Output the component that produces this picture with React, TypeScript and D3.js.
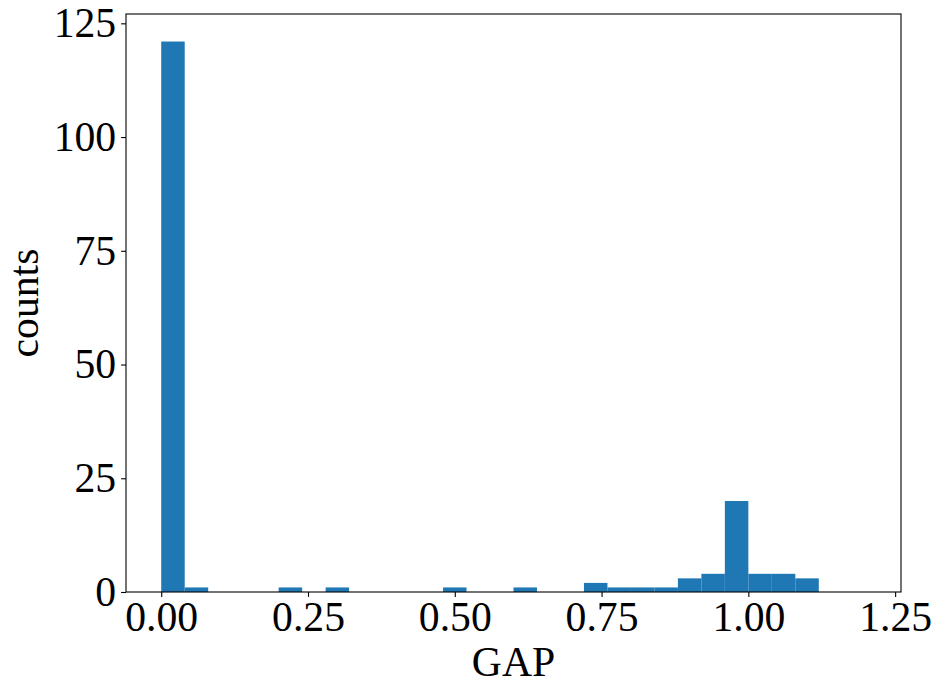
import * as d3 from "d3";
import { useEffect, useRef } from "react";

// histogram of GAP values: 30 bins between min and max
const dataMin = 0;
const dataMax = 1.2;
const binCount = 30;
const counts = [
  121, 1, 0, 0, 0, 1, 0, 1, 0, 0,
  0, 0, 1, 0, 0, 1, 0, 0, 2, 1,
  1, 1, 3, 4, 20, 4, 4, 3, 0, 0,
];
const xTicks = [0, 0.25, 0.5, 0.75, 1.0, 1.25];
const yTicks = [0, 25, 50, 75, 100, 125];
const xLabel = "GAP";
const yLabel = "counts";

export default function App() {
  const ref = useRef<SVGSVGElement>(null);

  useEffect(() => {
    const svg = d3.select(ref.current);
    svg.selectAll("*").remove();

    const width = 941;
    const height = 693;
    const plot = { left: 126, right: 901, top: 14, bottom: 592 };
    const font = "'Liberation Serif', 'Times New Roman', serif";
    const fontSize = 41.7;

    svg.attr("width", width).attr("height", height);

    const binWidth = (dataMax - dataMin) / binCount;
    const bins = counts.map((c, i) => ({
      x0: dataMin + i * binWidth,
      x1: dataMin + (i + 1) * binWidth,
      count: c,
    }));

    const pad = (dataMax - dataMin) * 0.05;
    const x = d3
      .scaleLinear()
      .domain([dataMin - pad, dataMax + pad])
      .range([plot.left, plot.right]);

    const y = d3
      .scaleLinear()
      .domain([0, d3.max(counts)! * 1.05])
      .range([plot.bottom, plot.top]);

    svg.append("rect")
      .attr("width", width)
      .attr("height", height)
      .attr("fill", "white");

    // Bars
    svg.append("g")
      .selectAll("rect")
      .data(bins.filter((b) => b.count > 0))
      .join("rect")
      .attr("x", (d) => x(d.x0))
      .attr("width", (d) => x(d.x1) - x(d.x0))
      .attr("y", (d) => y(d.count))
      .attr("height", (d) => y(0) - y(d.count))
      .attr("fill", "#1f77b4");

    // Axes
    const xAxis = svg.append("g")
      .attr("transform", `translate(0,${plot.bottom})`)
      .call(
        d3.axisBottom(x)
          .tickValues(xTicks)
          .tickFormat(d3.format(".2f"))
          .tickSize(4.9)
          .tickPadding(4.9)
          .tickSizeOuter(0)
      );

    const yAxis = svg.append("g")
      .attr("transform", `translate(${plot.left},0)`)
      .call(
        d3.axisLeft(y)
          .tickValues(yTicks)
          .tickFormat(d3.format("d"))
          .tickSize(4.9)
          .tickPadding(4.9)
          .tickSizeOuter(0)
      );

    [xAxis, yAxis].forEach((g) => {
      g.select(".domain").remove();
      g.selectAll("line").attr("stroke", "black").attr("stroke-width", 1.1);
      g.selectAll("text")
        .attr("fill", "black")
        .style("font-family", font)
        .style("font-size", `${fontSize}px`);
    });

    // Spines
    svg.append("rect")
      .attr("x", plot.left)
      .attr("y", plot.top)
      .attr("width", plot.right - plot.left)
      .attr("height", plot.bottom - plot.top)
      .attr("fill", "none")
      .attr("stroke", "black")
      .attr("stroke-width", 1.1);

    // Axis labels
    svg.append("text")
      .attr("x", (plot.left + plot.right) / 2)
      .attr("y", 675.5)
      .attr("text-anchor", "middle")
      .style("font-family", font)
      .style("font-size", `${fontSize}px`)
      .text(xLabel);

    svg.append("text")
      .attr("transform", `translate(37.5,${(plot.top + plot.bottom) / 2}) rotate(-90)`)
      .attr("text-anchor", "middle")
      .style("font-family", font)
      .style("font-size", `${fontSize}px`)
      .text(yLabel);
  }, []);

  return (
    <div style={{ position: "absolute", left: 0, top: 0 }}>
      <svg ref={ref}></svg>
    </div>
  );
}
